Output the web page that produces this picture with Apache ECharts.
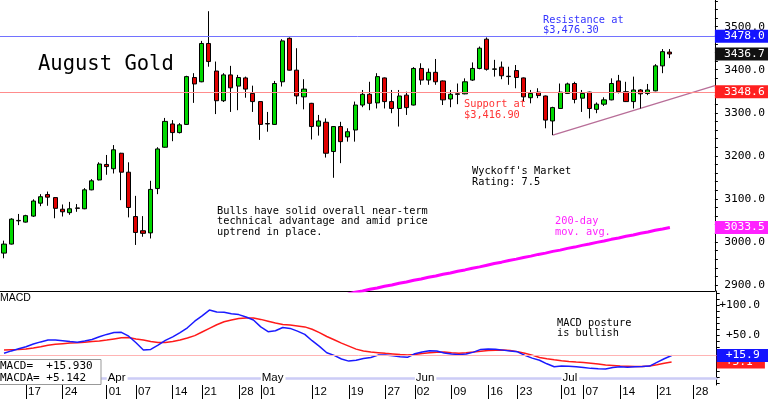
<!DOCTYPE html>
<html>
<head>
<meta charset="utf-8">
<title>August Gold</title>
<script src="https://cdn.jsdelivr.net/npm/echarts@6/dist/echarts.min.js"></script>
<style>
  html, body { margin: 0; padding: 0; background: #fff; }
  #chart { width: 768px; height: 399px; }
</style>
</head>
<body>
<div id="chart"></div>
<script>
/* =========================================
   1. DATA
   ========================================= */
// trading days, Mar 12 -> Jul 31 (the last six are empty space on the right)
const dates = [
  "03-12", "03-13", "03-14", "03-17", "03-18", "03-19", "03-20", "03-21", "03-24", "03-25",
  "03-26", "03-27", "03-28", "03-31", "04-01", "04-02", "04-03", "04-04", "04-07", "04-08",
  "04-09", "04-10", "04-11", "04-14", "04-15", "04-16", "04-17", "04-21", "04-22", "04-23",
  "04-24", "04-25", "04-28", "04-29", "04-30", "05-01", "05-02", "05-05", "05-06", "05-07",
  "05-08", "05-09", "05-12", "05-13", "05-14", "05-15", "05-16", "05-19", "05-20", "05-21",
  "05-22", "05-23", "05-27", "05-28", "05-29", "05-30", "06-02", "06-03", "06-04", "06-05",
  "06-06", "06-09", "06-10", "06-11", "06-12", "06-13", "06-16", "06-17", "06-18", "06-20",
  "06-23", "06-24", "06-25", "06-26", "06-27", "06-30", "07-01", "07-02", "07-03", "07-07",
  "07-08", "07-09", "07-10", "07-11", "07-14", "07-15", "07-16", "07-17", "07-18", "07-21",
  "07-22", "07-23", "07-24", "07-25", "07-28", "07-29", "07-30", "07-31",
];

const opens = [
  2974, 2995, 3050, 3046, 3060, 3090, 3110, 3103, 3076, 3068,
  3079, 3077, 3121, 3144, 3180, 3170, 3206, 3162, 3059, 3026,
  3021, 3124, 3220, 3274, 3254, 3273, 3382, 3372, 3461, 3397,
  3328, 3388, 3362, 3381, 3345, 3326, 3275, 3273, 3372, 3473,
  3399, 3337, 3322, 3269, 3278, 3210, 3268, 3244, 3260, 3318,
  3343, 3323, 3381, 3326, 3310, 3341, 3318, 3403, 3376, 3394,
  3374, 3332, 3344, 3344, 3376, 3403, 3471, 3401, 3406, 3385,
  3398, 3381, 3335, 3348, 3339, 3281, 3310, 3345, 3368, 3334,
  3348, 3308, 3320, 3330, 3374, 3349, 3326, 3353, 3345, 3351,
  3409, 3441,
];
const closes = [
  2995, 3053, 3049, 3061, 3095, 3105, 3104, 3078, 3070, 3077,
  3078, 3121, 3142, 3181, 3175, 3214, 3162, 3080, 3022, 3020,
  3122, 3216, 3280, 3254, 3272, 3384, 3367, 3461, 3419, 3328,
  3388, 3358, 3382, 3355, 3326, 3273, 3274, 3368, 3467, 3399,
  3339, 3355, 3268, 3281, 3206, 3268, 3233, 3256, 3318, 3343,
  3322, 3384, 3326, 3310, 3339, 3312, 3403, 3376, 3394, 3372,
  3330, 3343, 3343, 3372, 3403, 3450, 3401, 3402, 3386, 3384,
  3382, 3337, 3345, 3340, 3283, 3312, 3348, 3367, 3331, 3345,
  3310, 3320, 3330, 3368, 3349, 3326, 3353, 3344, 3353, 3409,
  3442, 3436.7,
];
const lows = [
  2962, 2994, 3039, 3045, 3058, 3083, 3084, 3055, 3059, 3063,
  3070, 3076, 3120, 3143, 3156, 3159, 3097, 3057, 2993, 3012,
  3008, 3111, 3219, 3234, 3252, 3272, 3323, 3371, 3407, 3297,
  3325, 3302, 3306, 3335, 3302, 3237, 3256, 3272, 3361, 3398,
  3320, 3308, 3238, 3247, 3196, 3149, 3183, 3233, 3233, 3313,
  3306, 3310, 3310, 3299, 3268, 3295, 3317, 3365, 3365, 3365,
  3318, 3313, 3320, 3343, 3374, 3401, 3398, 3384, 3378, 3365,
  3357, 3326, 3322, 3334, 3264, 3248, 3309, 3344, 3322, 3302,
  3287, 3299, 3316, 3329, 3345, 3325, 3310, 3310, 3341, 3350,
  3392, 3427,
];
const highs = [
  3003, 3055, 3065, 3063, 3099, 3111, 3117, 3104, 3087, 3093,
  3088, 3125, 3146, 3185, 3202, 3225, 3207, 3185, 3107, 3060,
  3142, 3220, 3288, 3283, 3276, 3386, 3392, 3467, 3536, 3419,
  3392, 3409, 3388, 3384, 3363, 3327, 3302, 3374, 3471, 3475,
  3450, 3378, 3323, 3295, 3287, 3268, 3279, 3264, 3326, 3353,
  3372, 3392, 3382, 3353, 3353, 3349, 3406, 3415, 3403, 3425,
  3375, 3353, 3368, 3380, 3417, 3454, 3475, 3423, 3419, 3407,
  3411, 3382, 3353, 3357, 3340, 3314, 3368, 3370, 3372, 3353,
  3349, 3324, 3336, 3380, 3388, 3372, 3384, 3355, 3367, 3413,
  3448, 3448,
];

// 200-day moving average, visible from mid May
const ma200Start = 47;
const ma200 = [
  2879, 2883, 2886, 2890, 2893, 2897, 2900, 2904, 2907, 2911,
  2914, 2918, 2921, 2925, 2928, 2932, 2935, 2939, 2942, 2946,
  2950, 2953, 2957, 2960, 2964, 2967, 2971, 2974, 2978, 2981,
  2985, 2988, 2992, 2995, 2999, 3002, 3006, 3009, 3013, 3016,
  3020, 3023, 3027, 3030, 3033.5,
];

// rising trendline from the Jun 30 low to the right edge
const trendX = [75, 97.15];
const trendY = [3248, 3363];

const macd = [
  19.5, 23.5, 27, 30.5, 35, 38.5, 41.5, 41.5, 40.5, 39,
  38, 40, 42.5, 47, 51, 54, 54.5, 48, 37, 25,
  26, 33, 41, 47, 54, 62, 73, 82, 91.5, 88.3,
  88, 85.5, 84, 80, 75, 63.5, 55.6, 57, 62.5, 61,
  56.5, 51, 40.5, 31, 20.5, 16, 10, 6.5, 8, 10.8,
  12.5, 16.5, 16.5, 15.3, 13.8, 12.8, 18.8, 21.5, 23.7, 23.3,
  20, 18.5, 17.3, 18.5, 21.5, 26, 26.5, 26.1, 24.8, 23.3,
  22, 16, 11.5, 8, 2, -3, -1.7, -2, -2.8, -4,
  -5.6, -6.3, -6.5, -4, -3, -3.9, -3, -2.5, -1.8, 4.5,
  10.5, 15.93,
];
const signal = [
  25, 25.5, 26, 26.7, 28.5, 30.5, 33, 34.5, 35.5, 36.5,
  37.2, 38, 39, 40, 41.5, 43.5, 45.5, 46, 43.5, 41.5,
  39, 37.5, 37.5, 39, 41.7, 45, 49, 55, 61, 67,
  72, 75, 77.5, 78.5, 78.5, 76, 73, 70, 67.5, 66.5,
  65, 63.5, 59.5, 54, 47.5, 42, 36.5, 31.5, 26.5, 23.5,
  21.5, 20.5, 19.4, 18.5, 17.5, 16.8, 17.5, 19, 20.3, 21.2,
  21.7, 20.5, 19.6, 20.5, 21.7, 23, 24, 24.5, 25, 24,
  22.3, 19.5, 16.5, 12.5, 10.5, 8.8, 7.2, 6, 5, 4.2,
  3, 1.8, 0, -0.7, -1.5, -2, -2.5, -2.6, -1.8, 0.5,
  3, 5.142,
];

// right-hand value tags
const priceLevels = [3478.0, 3436.7, 3348.6, 3033.5];
const macdLevels = [5.142, 15.93];

// axis labels
const priceTicks = [2900, 3000, 3100, 3200, 3300, 3400, 3500];
const macdTicks = [50, 100];
const dayTicks = ["03-17", "03-24", "04-01", "04-07", "04-14", "04-21", "04-28", "05-01",
  "05-12", "05-19", "05-27", "06-02", "06-09", "06-16", "06-23", "07-01", "07-07",
  "07-14", "07-21", "07-28"];
const monthTicks = ["04-01", "05-01", "06-02", "07-01"];
const monthNames = ["Apr", "May", "Jun", "Jul"];

/* =========================================
   2. CHART
   ========================================= */
const MONO = '"DejaVu Sans Mono", monospace';
const SANS = '"Liberation Sans", Arial, sans-serif';
const X_MIN = -0.545;
const X_MAX = 97.15;
const NO_LINE = { color: "rgba(0,0,0,0)", width: 1 };

function initChart() {
  const dom = document.getElementById("chart");
  const chart = echarts.init(dom, null, { renderer: "canvas" });

  const candles = opens.map((o, i) => [i, o, closes[i], lows[i], highs[i]]);
  const maData = ma200.map((v, k) => [ma200Start + k, v]);
  const trendData = trendX.map((x, k) => [x, trendY[k]]);
  const macdData = macd.map((v, i) => [i, v]);
  const signalData = signal.map((v, i) => [i, v]);

  const dayIdx = dayTicks.map((d) => dates.indexOf(d));
  const monthIdx = monthTicks.map((d) => dates.indexOf(d));

  // small ticks on the right axes
  const priceMinor = [];
  for (let v = 2900; v <= 3560; v += 20) priceMinor.push(v);
  const macdMinor = [];
  for (let v = -30; v <= 120; v += 10) macdMinor.push(v);

  const tagLabel = (text, bg) => ({
    show: true,
    position: "end",
    distance: 0,
    formatter: text,
    color: "#fff",
    backgroundColor: bg,
    fontFamily: MONO,
    fontSize: 11.3,
    lineHeight: 12,
    padding: [1, 12, 0, 9],
  });

  const priceTags = [
    { yAxis: priceLevels[3], lineStyle: NO_LINE, label: tagLabel("3033.5", "#ff22ff") },
    { yAxis: priceLevels[1], lineStyle: NO_LINE, label: tagLabel("3436.7", "#111") },
    { yAxis: priceLevels[0], lineStyle: { color: "#7272ff", width: 1, type: "solid" }, label: tagLabel("3478.0", "#1414ff") },
    { yAxis: priceLevels[2], lineStyle: { color: "#ff8c8c", width: 1, type: "solid" }, label: tagLabel("3348.6", "#ff2020") },
  ];
  const macdTags = [
    { yAxis: macdLevels[0], lineStyle: NO_LINE, label: tagLabel("+5.1", "#ff2020") },
    { yAxis: macdLevels[1], lineStyle: { color: "#ffb4b4", width: 1, type: "solid" }, label: tagLabel("+15.9", "#1414ff") },
  ];

  const text = (str, x, y, size, color, lh, family) => ({
    type: "text",
    x: x,
    y: y,
    z: 50,
    style: {
      text: str,
      fill: color,
      font: size + "px " + (family || MONO),
      lineHeight: lh || size,
      verticalAlign: "middle",
    },
  });

  const option = {
    animation: false,
    backgroundColor: "#fff",
    grid: [
      { left: 0, right: 51.3, top: 0, height: 291 },
      { left: 0, right: 51.3, top: 291, height: 94 },
    ],
    xAxis: [
      {
        gridIndex: 0, type: "value", min: X_MIN, max: X_MAX,
        axisLine: { show: true, onZero: false, lineStyle: { color: "#000", width: 1 } },
        axisTick: { show: false }, axisLabel: { show: false }, splitLine: { show: false },
      },
      {
        gridIndex: 1, type: "value", min: X_MIN, max: X_MAX, position: "bottom",
        axisLine: { show: false, onZero: false },
        axisTick: { show: true, customValues: dayIdx, length: 14, lineStyle: { color: "#000", width: 1 } },
        axisLabel: {
          customValues: dayIdx,
          formatter: (v) => dates[Math.round(v)].slice(3),
          align: "left", margin: 1, padding: [0, 0, 0, 2],
          fontFamily: SANS, fontSize: 11.5, lineHeight: 11, color: "#000",
        },
        splitLine: { show: false },
      },
      {
        gridIndex: 1, type: "value", min: X_MIN, max: X_MAX, position: "bottom", offset: -7,
        axisLine: { show: true, onZero: false, lineStyle: { color: "#ccccf6", width: 2.5 } },
        axisTick: { show: false },
        axisLabel: {
          customValues: monthIdx,
          formatter: (v) => monthNames[monthIdx.indexOf(Math.round(v))],
          align: "left", verticalAlign: "middle", margin: 0,
          backgroundColor: "#fff", padding: [1, 2, 0, 1],
          fontFamily: SANS, fontSize: 11.5, color: "#000",
        },
        splitLine: { show: false },
      },
    ],
    yAxis: [
      {
        gridIndex: 0, type: "value", position: "right", min: 2886, max: 3562,
        axisLine: { show: true, onZero: false, lineStyle: { color: "#000", width: 1 } },
        axisTick: { show: true, customValues: priceMinor, length: 3, lineStyle: { color: "#000" } },
        axisLabel: {
          customValues: priceTicks,
          formatter: (v) => v.toFixed(1),
          margin: 9.3, fontFamily: MONO, fontSize: 11.3, color: "#000",
        },
        splitLine: { show: false },
      },
      {
        gridIndex: 1, type: "value", position: "right", min: -33.3, max: 123.3,
        axisLine: { show: true, onZero: false, lineStyle: { color: "#000", width: 1 } },
        axisTick: { show: true, customValues: macdMinor, length: 3, lineStyle: { color: "#000" } },
        axisLabel: {
          customValues: macdTicks,
          formatter: (v) => "+" + v.toFixed(1),
          align: "right", margin: 43.3, fontFamily: MONO, fontSize: 11.3, color: "#000",
        },
        splitLine: { show: false },
      },
    ],
    series: [
      {
        name: "August Gold",
        type: "candlestick",
        xAxisIndex: 0, yAxisIndex: 0,
        data: candles,
        encode: { x: 0, y: [1, 2, 3, 4] },
        barWidth: 4.6,
        itemStyle: {
          color: "#00d800", color0: "#e00000",
          borderColor: "#000", borderColor0: "#000", borderWidth: 1,
        },
        markLine: { symbol: ["none", "none"], silent: true, data: priceTags },
        z: 3,
      },
      {
        name: "200-day",
        type: "line",
        xAxisIndex: 0, yAxisIndex: 0,
        data: maData,
        showSymbol: false,
        lineStyle: { color: "#ff00ff", width: 3 },
      },
      {
        name: "Trend",
        type: "line",
        xAxisIndex: 0, yAxisIndex: 0,
        data: trendData,
        showSymbol: false,
        lineStyle: { color: "#b86e98", width: 1.3 },
      },
      {
        name: "MACDA",
        type: "line",
        xAxisIndex: 1, yAxisIndex: 1,
        data: signalData,
        showSymbol: false,
        lineStyle: { color: "#ff1a1a", width: 1.5 },
        markLine: { symbol: ["none", "none"], silent: true, data: macdTags },
      },
      {
        name: "MACD",
        type: "line",
        xAxisIndex: 1, yAxisIndex: 1,
        data: macdData,
        showSymbol: false,
        lineStyle: { color: "#1a1aff", width: 1.5 },
      },
    ],
    graphic: {
      elements: [
        text("August Gold", 38, 64.5, 20.5, "#000"),
        text("Resistance at\n$3,476.30", 543, 25.4, 10.3, "#3434ff", 10.7),
        text("Support at\n$3,416.90", 464, 109.7, 10.3, "#ff3434", 10.7),
        text("Wyckoff's Market\nRating: 7.5", 472, 177, 10.3, "#000", 10.6),
        text("Bulls have solid overall near-term\ntechnical advantage and amid price\nuptrend in place.", 217, 221.5, 10.3, "#000", 10.4),
        text("200-day\nmov. avg.", 555, 227.2, 10.3, "#ff22ff", 11),
        text("MACD posture\nis bullish", 557, 328.3, 10.3, "#000", 10),
        text("MACD", 0, 298.3, 10.5, "#000", 10.5, SANS),
        {
          type: "rect",
          z: 60,
          shape: { x: -1, y: 359.5, width: 102, height: 25 },
          style: { fill: "#fff", stroke: "#999", lineWidth: 1 },
        },
        Object.assign(text("MACD=  +15.930\nMACDA= +5.142", 0, 372, 11, "#000", 11.7), { z: 61 }),
      ],
    },
  };

  chart.setOption(option);
  window.addEventListener("resize", () => chart.resize());
}

document.addEventListener("DOMContentLoaded", initChart);
</script>
</body>
</html>
